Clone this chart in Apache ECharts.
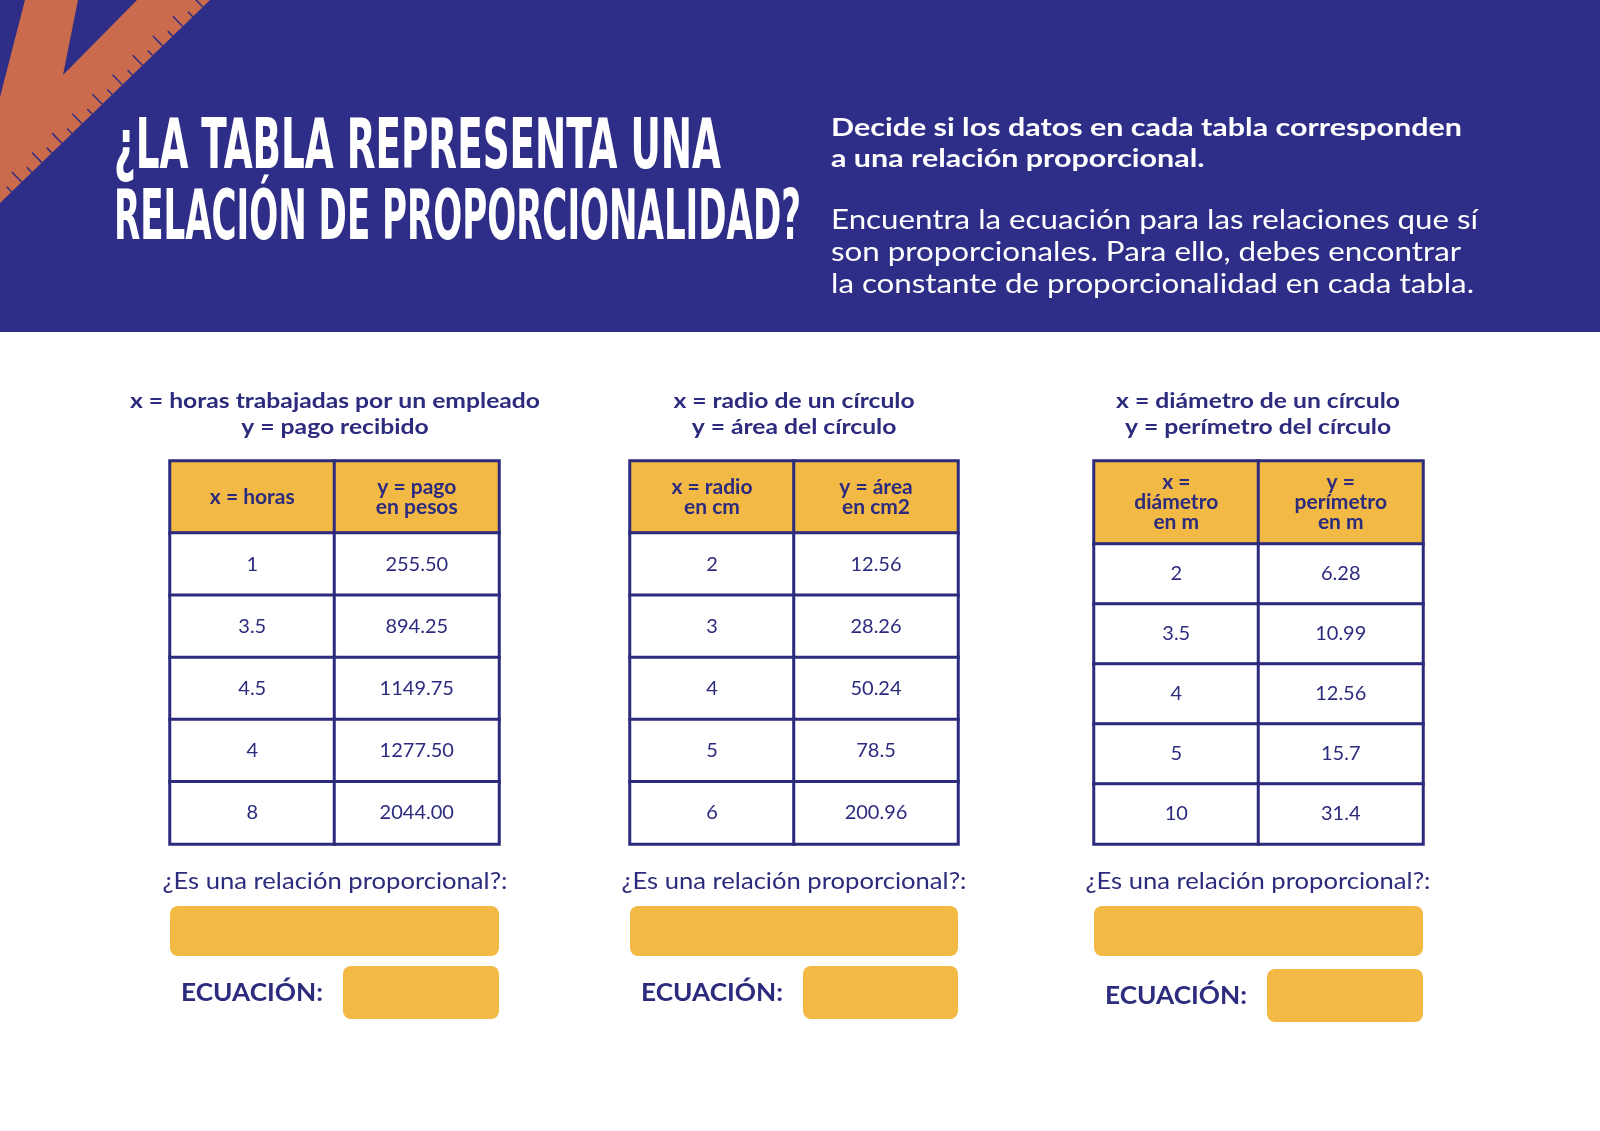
<!DOCTYPE html>
<html>
  <head>
    <title>Relación de proporcionalidad</title>
    <meta charset="utf-8" />
    <script src="https://cdn.jsdelivr.net/npm/echarts@6/dist/echarts.min.js"></script>
    <style>
      html, body { margin: 0; padding: 0; background: #fff; }
      #main { width: 1600px; height: 1131px; }
    </style>
  </head>
  <body>
    <div id="main"></div>
    <script type="text/javascript">
    // table values
    var horas = [1, 3.5, 4.5, 4, 8];
    var pago = [255.5, 894.25, 1149.75, 1277.5, 2044];
    var radio = [2, 3, 4, 5, 6];
    var area = [12.56, 28.26, 50.24, 78.5, 200.96];
    var diametro = [2, 3.5, 4, 5, 10];
    var perimetro = [6.28, 10.99, 12.56, 15.7, 31.4];

    // header and caption texts
    var headers1 = ['x = horas', 'y = pago\nen pesos'];
    var headers2 = ['x = radio\nen cm', 'y = área\nen cm2'];
    var headers3 = ['x =\ndiámetro\nen m', 'y =\nperímetro\nen m'];
    var captions1 = ['x = horas trabajadas por un empleado', 'y = pago recibido'];
    var captions2 = ['x = radio de un círculo', 'y = área del círculo'];
    var captions3 = ['x = diámetro de un círculo', 'y = perímetro del círculo'];

    var BLUE = '#2e2e88';
    var NAVY = '#2c2b7e';
    var YELLOW = '#f2b945';
    var ORANGE = '#c96b4c';
    var FONT = 'Lato, "Noto Sans", sans-serif';
    var TITLE_FONT = '"Liberation Sans Narrow", "DejaVu Sans Condensed", sans-serif';

    // table layout (not data)
    var tables = [
      { left: 170, right: 499, headBottom: 533, cx: 335, heads: headers1, caps: captions1, xs: horas, ys: pago, fixed: true, eqY: 993 },
      { left: 630, right: 958, headBottom: 533, cx: 794, heads: headers2, caps: captions2, xs: radio, ys: area, fixed: false, eqY: 993 },
      { left: 1094, right: 1423, headBottom: 544, cx: 1258, heads: headers3, caps: captions3, xs: diametro, ys: perimetro, fixed: false, eqY: 996 }
    ];
    var TOP = 461, BOTTOM = 844;

    // canvas measure to stretch text to the widths seen in the picture
    var ctx = document.createElement('canvas').getContext('2d');
    function fitScale(text, size, weight, family, target) {
      ctx.font = weight + ' ' + size + 'px ' + family;
      return target / ctx.measureText(text).width;
    }

    function txt(x, y, text, size, weight, family, color, align, scaleX) {
      return {
        type: 'text', x: x, y: y, scaleX: scaleX || 1, silent: true,
        style: {
          text: text, fill: color, fontSize: size, fontWeight: weight, fontFamily: family,
          align: align || 'left', textAlign: align || 'left',
          verticalAlign: 'middle', textVerticalAlign: 'middle'
        }
      };
    }

    var graphic = [];
    // banner
    graphic.push({ type: 'rect', shape: { x: 0, y: 0, width: 1600, height: 332 }, style: { fill: BLUE }, silent: true });
    // ruler
    graphic.push({
      type: 'polygon', silent: true,
      shape: { points: [[25, 0], [78, 0], [63, 75], [137, 0], [210, 0], [0, 203], [0, 97]] },
      style: { fill: ORANGE }
    });
    var edgeLen = Math.sqrt(210 * 210 + 203 * 203);
    var ux = -210 / edgeLen, uy = 203 / edgeLen;
    var nx = -203 / edgeLen, ny = -210 / edgeLen;
    for (var d = 10, k = 0; d < edgeLen - 4; d += 14, k++) {
      var px = 210 + ux * d, py = uy * d;
      var len = k % 2 === 0 ? 14 : 7;
      graphic.push({
        type: 'line', silent: true,
        shape: { x1: px, y1: py, x2: px + nx * len, y2: py + ny * len },
        style: { stroke: BLUE, lineWidth: 1.5 }
      });
    }

    // title
    var t1 = '¿LA TABLA REPRESENTA UNA';
    var t2 = 'RELACIÓN DE PROPORCIONALIDAD?';
    graphic.push(txt(114, 150, t1, 70, 'bold', TITLE_FONT, '#fff', 'left', fitScale(t1, 70, 'bold', TITLE_FONT, 607)));
    graphic.push(txt(114, 221, t2, 70, 'bold', TITLE_FONT, '#fff', 'left', fitScale(t2, 70, 'bold', TITLE_FONT, 687)));

    // instructions
    var b1 = 'Decide si los datos en cada tabla corresponden';
    var sb = fitScale(b1, 25, 'bold', FONT, 631);
    graphic.push(txt(831, 128, b1, 25, 'bold', FONT, '#fff', 'left', sb));
    graphic.push(txt(831, 159, 'a una relación proporcional.', 25, 'bold', FONT, '#fff', 'left', sb));
    var r1 = 'Encuentra la ecuación para las relaciones que sí';
    var sr = fitScale(r1, 26, 'normal', FONT, 647);
    graphic.push(txt(831, 221, r1, 26, 'normal', FONT, '#fff', 'left', sr));
    graphic.push(txt(831, 253, 'son proporcionales. Para ello, debes encontrar', 26, 'normal', FONT, '#fff', 'left', sr));
    graphic.push(txt(831, 285, 'la constante de proporcionalidad en cada tabla.', 26, 'normal', FONT, '#fff', 'left', sr));

    var sCap = fitScale(captions1[0], 21, 'bold', FONT, 410);
    var q = '¿Es una relación proporcional?:';
    var sQ = fitScale(q, 23, 'normal', FONT, 345);
    var sE = fitScale('ECUACIÓN:', 25, 'bold', FONT, 142);

    var grids = [], xAxes = [], yAxes = [], series = [];
    var cellLabel = { show: true, color: NAVY, fontFamily: FONT };

    tables.forEach(function (t, ti) {
      var w = t.right - t.left;
      graphic.push(txt(t.cx, 401, t.caps[0], 21, 'bold', FONT, NAVY, 'center', sCap));
      graphic.push(txt(t.cx, 427, t.caps[1], 21, 'bold', FONT, NAVY, 'center', sCap));
      graphic.push(txt(t.cx, 882, q, 23, 'normal', FONT, NAVY, 'center', sQ));
      graphic.push({ type: 'rect', silent: true, shape: { x: t.left, y: 906, width: w, height: 50, r: 8 }, style: { fill: YELLOW } });
      graphic.push(txt(t.left + 11, t.eqY, 'ECUACIÓN:', 25, 'bold', FONT, NAVY, 'left', sE));
      graphic.push({ type: 'rect', silent: true, shape: { x: t.left + 173, y: t.eqY - 27, width: w - 173, height: 53, r: 8 }, style: { fill: YELLOW } });

      // header grid and body grid
      var gh = grids.length;
      grids.push({ left: t.left, top: TOP, width: w, height: t.headBottom - TOP });
      grids.push({ left: t.left, top: t.headBottom, width: w, height: BOTTOM - t.headBottom });
      [gh, gh + 1].forEach(function (g) {
        xAxes.push({ type: 'category', gridIndex: g, data: ['x', 'y'], show: false });
      });
      yAxes.push({ type: 'category', gridIndex: gh, data: ['h'], show: false });
      yAxes.push({ type: 'category', gridIndex: gh + 1, data: t.xs.map(function (v, i) { return 'r' + i; }), inverse: true, show: false });

      series.push({
        type: 'heatmap', xAxisIndex: gh, yAxisIndex: gh,
        data: [[0, 0, 0], [1, 0, 1]],
        itemStyle: { color: YELLOW, borderColor: NAVY, borderWidth: 3 },
        label: Object.assign({}, cellLabel, {
          fontSize: 21, fontWeight: 'bold', lineHeight: 20,
          formatter: function (p) { return t.heads[p.value[0]]; }
        }),
        emphasis: { disabled: true }
      });
      var body = [];
      t.xs.forEach(function (v, i) {
        body.push([0, i, v]);
        body.push([1, i, t.ys[i]]);
      });
      series.push({
        type: 'heatmap', xAxisIndex: gh + 1, yAxisIndex: gh + 1,
        data: body,
        itemStyle: { color: '#fff', borderColor: NAVY, borderWidth: 3 },
        label: Object.assign({}, cellLabel, {
          fontSize: 20,
          formatter: function (p) {
            var v = p.value[2];
            return (t.fixed && p.value[0] === 1) ? v.toFixed(2) : String(v);
          }
        }),
        emphasis: { disabled: true }
      });
    });

    var myChart = echarts.init(document.getElementById('main'));
    myChart.setOption({
      backgroundColor: '#fff',
      animation: false,
      grid: grids,
      xAxis: xAxes,
      yAxis: yAxes,
      series: series,
      graphic: graphic
    });
    </script>
  </body>
</html>
